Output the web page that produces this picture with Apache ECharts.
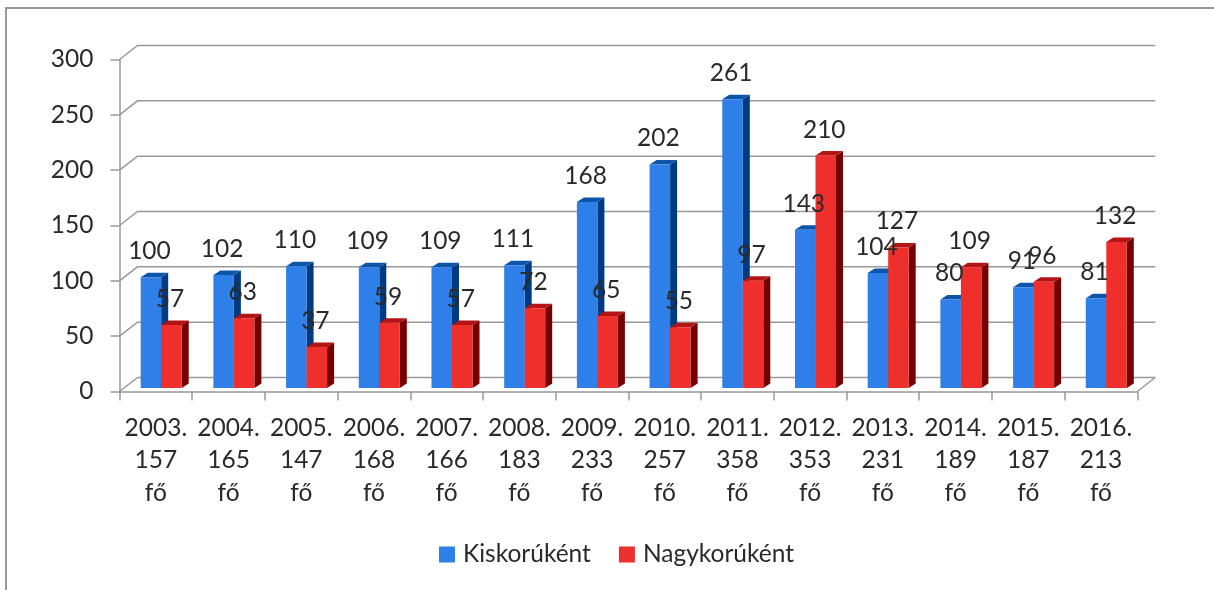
<!DOCTYPE html>
<html>
<head>
<meta charset="utf-8">
<title>Kiskorúként / Nagykorúként</title>
<script src="https://cdn.jsdelivr.net/npm/echarts@6/dist/echarts.min.js"></script>
<style>
  html, body { margin: 0; padding: 0; background: #fff; }
  #chart { width: 1214px; height: 590px; }
</style>
</head>
<body>
<div id="chart"></div>
<script>
const years = ['2003.', '2004.', '2005.', '2006.', '2007.', '2008.', '2009.', '2010.', '2011.', '2012.', '2013.', '2014.', '2015.', '2016.']
const totals = [157, 165, 147, 168, 166, 183, 233, 257, 358, 353, 231, 189, 187, 213]
const kiskoru = [100, 102, 110, 109, 109, 111, 168, 202, 261, 143, 104, 80, 91, 81]
const nagykoru = [57, 63, 37, 59, 57, 72, 65, 55, 97, 210, 127, 109, 96, 132]
const yTicks = [0, 50, 100, 150, 200, 250, 300]

const categories = years.map((y, i) => y + '\n' + totals[i] + '\nfő')
const fontFamily = 'Lato'
const fontSize = 24.5
const textColor = '#2a2a2a'
const axisColor = '#999'

// fake 3d: wall is pushed back by this many pixels
const wallX = 18
const wallY = 14
const barLift = 3.5
const sideX = 7
const sideY = 4.5

const renderWall = (params, api) => {
  const rect = params.coordSys
  const y = api.coord([0, api.value(0)])[1]
  const left = rect.x
  const right = rect.x + rect.width
  const children = [{
    type: 'polyline',
    shape: { points: [[left, y], [left + wallX, y - wallY], [right + wallX, y - wallY]] },
    style: { fill: null, stroke: axisColor, lineWidth: 1.5 }
  }]
  if (api.value(0) === 0) {
    children.push({
      type: 'line',
      shape: { x1: right, y1: y, x2: right + wallX, y2: y - wallY },
      style: { stroke: axisColor, lineWidth: 1.5 }
    })
  }
  return { type: 'group', children }
}

const makeBarRenderer = (side, colors) => (params, api) => {
  const top = api.coord([api.value(0), api.value(1)])
  const base = api.coord([api.value(0), 0])
  const band = api.size([1, 0])[0]
  const w = band * 0.282
  const mid = top[0] + band * 0.0735
  const x = side === 0 ? mid - w : mid
  const y = top[1] - barLift
  const yBase = base[1] - barLift
  return {
    type: 'group',
    children: [
      {
        type: 'polygon',
        shape: { points: [[x + w, y], [x + w + sideX, y - sideY], [x + w + sideX, yBase - sideY], [x + w, yBase]] },
        style: { fill: colors.side }
      },
      {
        type: 'polygon',
        shape: { points: [[x, y], [x + sideX, y - sideY], [x + w + sideX, y - sideY], [x + w, y]] },
        style: { fill: colors.top }
      },
      {
        type: 'rect',
        shape: { x: x, y: y, width: w, height: yBase - y },
        style: { fill: colors.front }
      },
      {
        type: 'text',
        z2: 10,
        style: {
          x: x + w / 2 - 1.5,
          y: y - 26,
          text: String(api.value(1)),
          align: 'center',
          verticalAlign: 'middle',
          fontFamily: fontFamily,
          fontSize: fontSize,
          fill: textColor
        }
      }
    ]
  }
}

const blue = { front: '#2e7fe8', side: '#003a80', top: '#0d55a8' }
const red = { front: '#ee2f2b', side: '#760000', top: '#b31414' }

const chart = echarts.init(document.getElementById('chart'))
const option = {
  animation: false,
  backgroundColor: '#fff',
  textStyle: { fontFamily: fontFamily },
  grid: { left: 119.5, right: 76.7, top: 59.5, bottom: 198.5 },
  legend: {
    data: ['Kiskorúként', 'Nagykorúként'],
    left: 434,
    top: 537,
    icon: 'rect',
    itemWidth: 16,
    itemHeight: 16,
    itemGap: 28,
    textStyle: { fontFamily: fontFamily, fontSize: fontSize, color: textColor, padding: [0, 0, 0, 3] }
  },
  graphic: [{
    type: 'polyline',
    shape: { points: [[6, 590], [6, 8], [1214, 8]] },
    style: { fill: null, stroke: axisColor, lineWidth: 2 }
  }],
  xAxis: {
    type: 'category',
    data: categories,
    axisLine: { lineStyle: { color: axisColor, width: 1.5 } },
    axisTick: { show: true, length: 9, lineStyle: { color: axisColor, width: 1.5 } },
    axisLabel: {
      interval: 0,
      margin: 20,
      fontFamily: fontFamily,
      fontSize: fontSize,
      lineHeight: 32.5,
      color: textColor
    }
  },
  yAxis: {
    type: 'value',
    min: 0,
    max: 300,
    interval: 50,
    axisLine: { show: true, lineStyle: { color: axisColor, width: 1.5 } },
    axisTick: { show: true, length: 9, lineStyle: { color: axisColor, width: 1.5 } },
    splitLine: { show: false },
    axisLabel: {
      margin: 26,
      padding: [7, 0, 0, 0],
      fontFamily: fontFamily,
      fontSize: fontSize,
      color: textColor
    }
  },
  series: [
    {
      type: 'custom',
      name: 'wall',
      silent: true,
      renderItem: renderWall,
      encode: { y: 0 },
      data: yTicks.map(v => [v])
    },
    {
      type: 'custom',
      name: 'Kiskorúként',
      itemStyle: { color: blue.front },
      renderItem: makeBarRenderer(0, blue),
      encode: { x: 0, y: 1 },
      data: kiskoru.map((v, i) => [i, v])
    },
    {
      type: 'custom',
      name: 'Nagykorúként',
      itemStyle: { color: red.front },
      renderItem: makeBarRenderer(1, red),
      encode: { x: 0, y: 1 },
      data: nagykoru.map((v, i) => [i, v])
    }
  ]
}
chart.setOption(option)
</script>
</body>
</html>
